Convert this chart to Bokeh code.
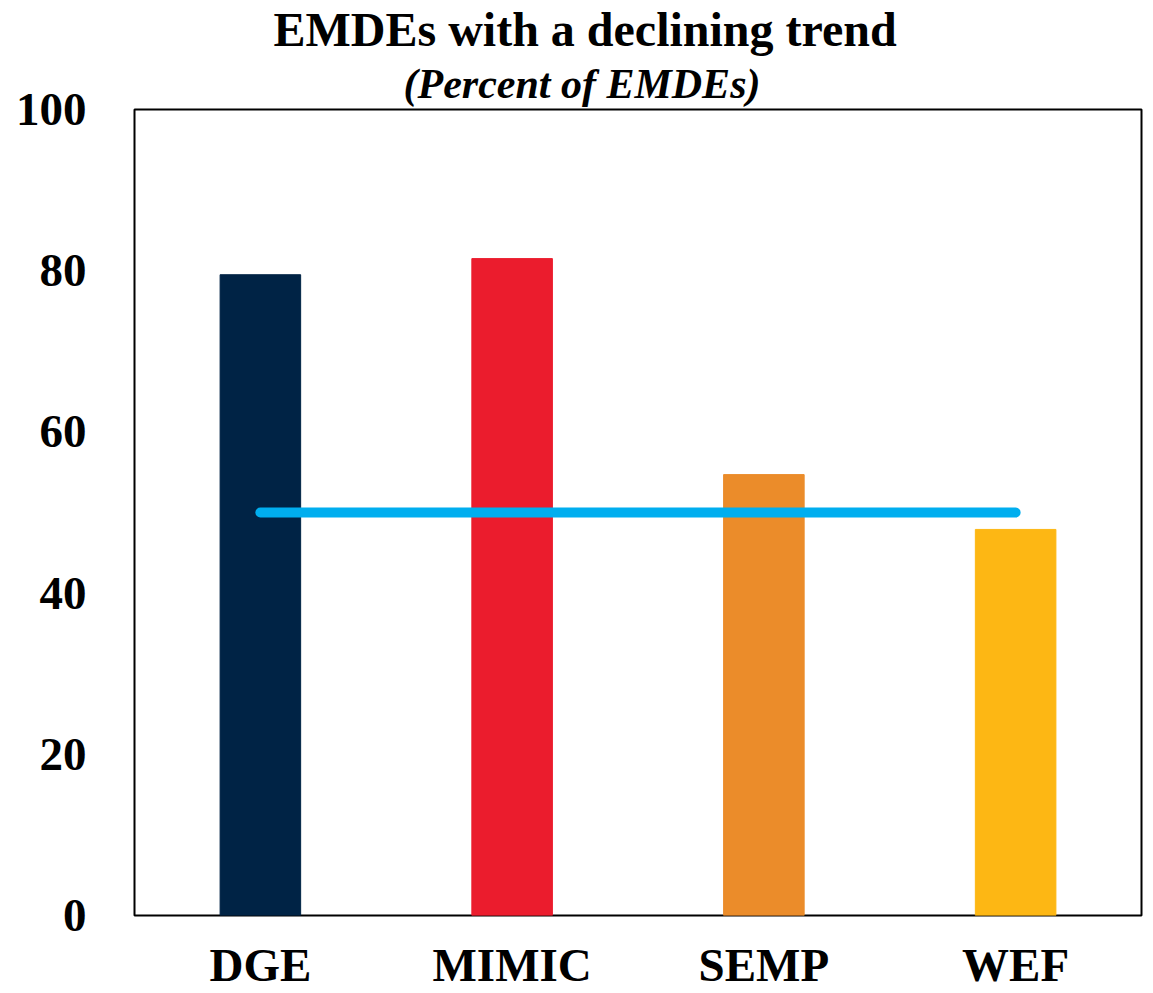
from bokeh.plotting import figure
from bokeh.models import Title, Range1d, FactorRange, ColumnDataSource
from bokeh.embed import file_html
from bokeh.resources import INLINE

categories = ["DGE", "MIMIC", "SEMP", "WEF"]
values = [79.5, 81.5, 54.7, 47.9]
colors = ["#002345", "#EB1C2D", "#EB8C2A", "#FDB714"]
threshold = 50
y_ticks = [0, 20, 40, 60, 80, 100]

FONT = "Liberation Serif"

p = figure(width=1153, height=993, x_range=FactorRange(*categories),
           y_range=Range1d(0, 100), output_backend="svg", toolbar_location=None,
           min_border_left=134, min_border_right=12, min_border_top=0, min_border_bottom=0)

src = ColumnDataSource(dict(cat=categories, val=values, col=colors))
p.vbar(x="cat", top="val", width=0.32, color="col", source=src)
p.line(x=[categories[0], categories[-1]], y=[threshold, threshold],
       line_color="#00AEEF", line_width=10, line_cap="round")

p.add_layout(Title(text="(Percent of EMDEs)", text_font=FONT, text_font_size="42px",
                   text_color="black", text_font_style="bold italic", align="left",
                   offset=269, standoff=6), "above")
p.add_layout(Title(text="EMDEs with a declining trend", text_font=FONT, text_font_size="48px",
                   text_color="black", text_font_style="bold", align="left",
                   offset=139, standoff=0), "above")

p.xgrid.grid_line_color = None
p.ygrid.grid_line_color = None
p.outline_line_color = "black"
p.outline_line_width = 2

for ax in (p.xaxis, p.yaxis):
    ax.axis_line_color = None
    ax.major_tick_line_color = None
    ax.minor_tick_line_color = None
    ax.major_label_text_font = FONT
    ax.major_label_text_font_style = "bold"
    ax.major_label_text_color = "black"
    ax.major_label_text_font_size = "47px"

p.yaxis.ticker = y_ticks
p.yaxis.major_label_standoff = 42
p.xaxis.major_label_standoff = 17

open("out.html", "w").write(file_html(p, INLINE))
